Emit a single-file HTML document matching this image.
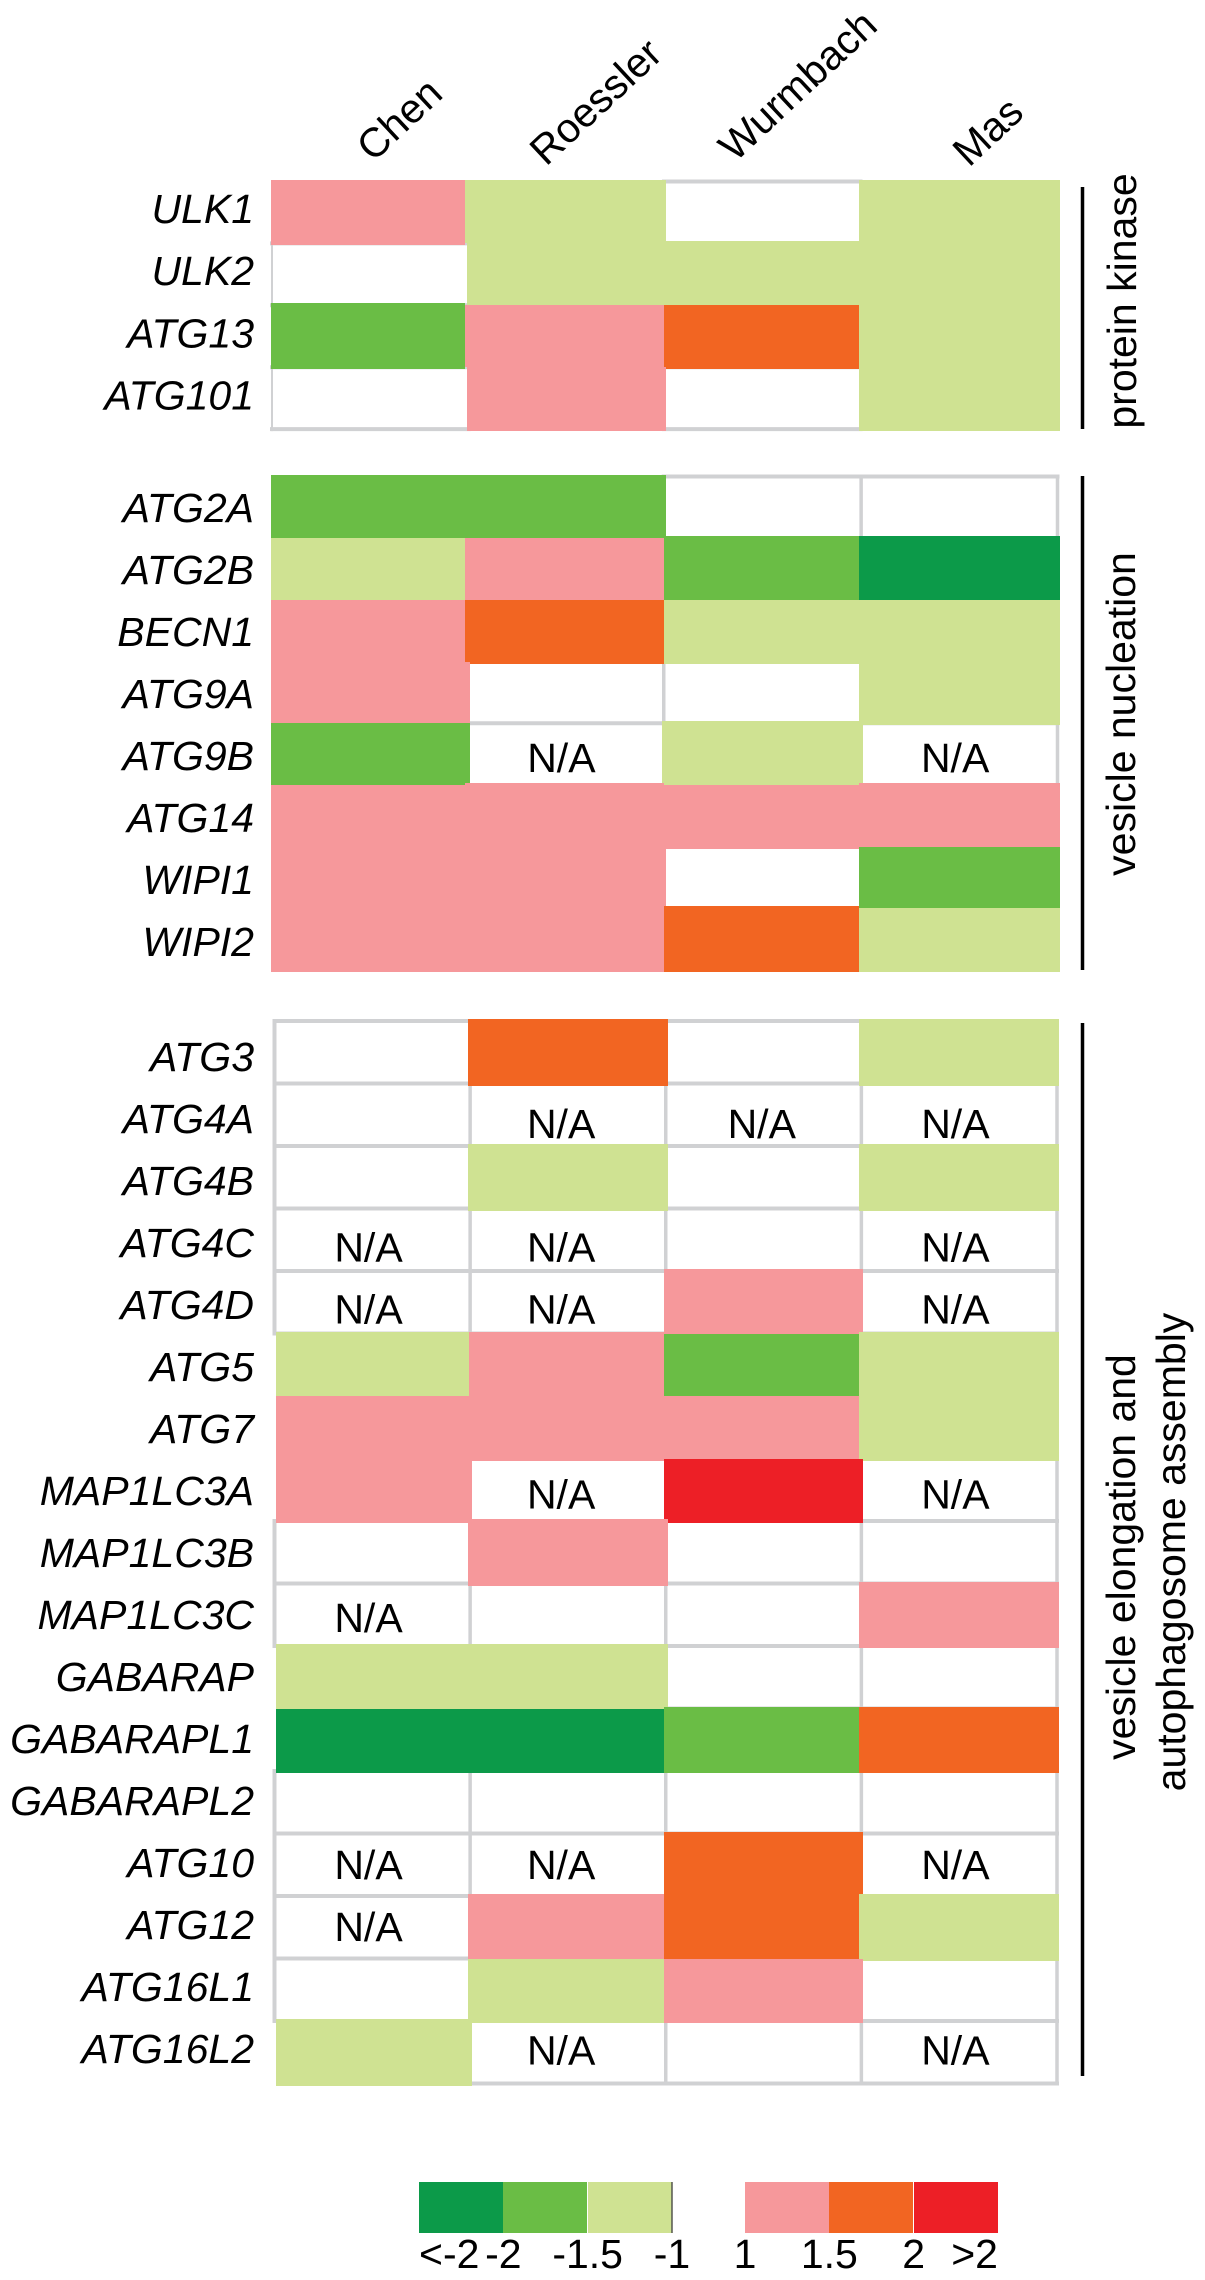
<!DOCTYPE html>
<html lang="en">
<head>
<meta charset="utf-8">
<title>Autophagy gene expression heatmap</title>
<style>
html,body{margin:0;padding:0;background:#fff}
svg{display:block}
text{font-family:"Liberation Sans",sans-serif;fill:#000}
</style>
</head>
<body>
<svg id="chart" xmlns="http://www.w3.org/2000/svg" width="1205" height="2280" viewBox="0 0 1205 2280">
  <rect x="0" y="0" width="1205" height="2280" fill="#fff"/>
  <g id="layer-grid"></g>
  <g id="layer-cells"></g>
  <g id="layer-text"></g>
  <g id="layer-legend"></g>
</svg>
<script>
// ---- data: 0 = no change (white), null = N/A, +/-1..3 = expression level class ----
const studies = ["Chen", "Roessler", "Wurmbach", "Mas"];

const kinaseGenes = ["ULK1", "ULK2", "ATG13", "ATG101"];
const kinaseValues = [
  [1, -1, 0, -1],
  [0, -1, -1, -1],
  [-2, 1, 2, -1],
  [0, 1, 0, -1]
];

const nucleationGenes = ["ATG2A", "ATG2B", "BECN1", "ATG9A", "ATG9B", "ATG14", "WIPI1", "WIPI2"];
const nucleationValues = [
  [-2, -2, 0, 0],
  [-1, 1, -2, -3],
  [1, 2, -1, -1],
  [1, 0, 0, -1],
  [-2, null, -1, null],
  [1, 1, 1, 1],
  [1, 1, 0, -2],
  [1, 1, 2, -1]
];

const elongationGenes = ["ATG3", "ATG4A", "ATG4B", "ATG4C", "ATG4D", "ATG5", "ATG7", "MAP1LC3A", "MAP1LC3B", "MAP1LC3C", "GABARAP", "GABARAPL1", "GABARAPL2", "ATG10", "ATG12", "ATG16L1", "ATG16L2"];
const elongationValues = [
  [0, 2, 0, -1],
  [0, null, null, null],
  [0, -1, 0, -1],
  [null, null, 0, null],
  [null, null, 1, null],
  [-1, 1, -2, -1],
  [1, 1, 1, -1],
  [1, null, 3, null],
  [0, 1, 0, 0],
  [null, 0, 0, 1],
  [-1, -1, 0, 0],
  [-3, -3, -2, 2],
  [0, 0, 0, 0],
  [null, null, 2, null],
  [null, 1, 2, -1],
  [0, -1, 1, 0],
  [-1, null, 0, null]
];

const legendGreenLevels = [-3, -2, -1];
const legendRedLevels = [1, 2, 3];
const legendTickLabels = ["<-2", "-2", "-1.5", "-1", "1", "1.5", "2", ">2"];

// ---- styling & scales ----
const levelColors = {"-3": "#0c9a49", "-2": "#6abd45", "-1": "#cfe292", "1": "#f6989b", "2": "#f26522", "3": "#ed1f26"};
const NS = "http://www.w3.org/2000/svg";
const FONT = 41;
const GRID = "#d0d1d3";

function node(tag, attrs, parent, txt) {
  const el = document.createElementNS(NS, tag);
  for (const k in attrs) el.setAttribute(k, attrs[k]);
  if (txt !== undefined) el.textContent = txt;
  parent.appendChild(el);
  return el;
}

const gridLayer = document.getElementById("layer-grid");
const cellLayer = document.getElementById("layer-cells");
const textLayer = document.getElementById("layer-text");
const legendLayer = document.getElementById("layer-legend");

function colEdge(panel, c) {
  const s = panel.fillLeft, e = panel.fillRight;
  return s + (e - s) * c / studies.length + (c > 0 && c < studies.length ? panel.fillNudge[c - 1] : 0);
}
function gridX(panel, c) {
  const s = panel.gridLeft, e = panel.gridRight;
  return s + (e - s) * c / studies.length + (c > 0 && c < studies.length ? panel.gridNudge[c - 1] : 0);
}
function rowY(panel, r) { return panel.top + panel.rowH * r; }
function labelY(panel, r) { return panel.labelBase + panel.labelStep * r; }
function naY(panel, r) { return panel.naBase + panel.naStep * r; }
function isFilled(values, r, c) {
  if (r < 0 || r >= values.length || c < 0 || c >= studies.length) return false;
  const v = values[r][c];
  return v !== null && v !== 0;
}

function drawPanel(panel, genes, values) {
  const n = genes.length;
  const cols = studies.length;
  // grid: only the segments that border at least one empty cell
  for (let r = 0; r <= n; r++) {
    for (let c = 0; c < cols; c++) {
      if (isFilled(values, r - 1, c) && isFilled(values, r, c)) continue;
      if (r === 0 && isFilled(values, 0, c)) continue;
      if (r === n && isFilled(values, n - 1, c)) continue;
      const h = node("line", {x1: gridX(panel, c) - 2, x2: gridX(panel, c + 1) + 2, y1: rowY(panel, r), y2: rowY(panel, r), stroke: GRID, "stroke-width": 4}, gridLayer);
      
      
    }
  }
  for (let r = 0; r < n; r++) {
    for (let c = 0; c <= cols; c++) {
      if (isFilled(values, r, c - 1) || isFilled(values, r, c)) continue;
      const outerLeft = c === 0;
      const v = node("line", {x1: gridX(panel, c), x2: gridX(panel, c), y1: rowY(panel, r) - 2, y2: rowY(panel, r + 1) + 2, stroke: GRID, "stroke-width": outerLeft ? panel.leftLine : 3.5}, gridLayer);
      
      
    }
  }
  // cells
  values.forEach(function (row, r) {
    row.forEach(function (v, c) {
      if (v === null) {
        const na = node("text", {x: gridX(panel, c) + panel.naShift[c], y: naY(panel, r), "text-anchor": "middle", "font-size": FONT}, textLayer, "N/A");
        
        
      } else if (v !== 0) {
        const x0 = Math.round(c === 0 ? panel.fillLeft : (isFilled(values, r, c - 1) ? colEdge(panel, c) : gridX(panel, c) - 2));
        const x1 = Math.round(c === cols - 1 ? panel.fillRight : (isFilled(values, r, c + 1) ? colEdge(panel, c + 1) : gridX(panel, c + 1) + 2));
        const y0 = Math.round(isFilled(values, r - 1, c) ? rowY(panel, r) : rowY(panel, r) - 2);
        const y1 = Math.round(isFilled(values, r + 1, c) ? rowY(panel, r + 1) : rowY(panel, r + 1) + 2);
        const cell = node("rect", {x: x0, y: y0, width: x1 - x0, height: y1 - y0, fill: levelColors[v]}, cellLayer);
        
        
      }
    });
  });
  // gene labels
  genes.forEach(function (g, r) {
    const lab = node("text", {x: 254, y: labelY(panel, r), "text-anchor": "end", "font-size": FONT, "font-style": "italic"}, textLayer, g);
    
    
  });
  // group bar
  const bar = node("line", {x1: 1082.5, x2: 1082.5, y1: panel.barTop, y2: panel.barBottom, stroke: "#000", "stroke-width": 3.5}, textLayer);
  
  
}

const panelKinase = {top: 181.5, rowH: 61.9, fillLeft: 271, fillRight: 1060, fillNudge: [-3, -2, -4], gridLeft: 272, gridRight: 1058, gridNudge: [0, -1, -1], leftLine: 2,
  labelBase: 223, labelStep: 62.2, naBase: 0, naStep: 0, naShift: [0, 0, 0, 0], barTop: 187, barBottom: 429};
const panelNucleation = {top: 476.5, rowH: 61.7, fillLeft: 271, fillRight: 1060, fillNudge: [-3, -2, -4], gridLeft: 272, gridRight: 1057.5, gridNudge: [0, -1, 0], leftLine: 2,
  labelBase: 522, labelStep: 62, naBase: 524, naStep: 62, naShift: [93, 93, 94, 94], barTop: 476, barBottom: 970};
const panelElongation = {top: 1021, rowH: 62.5, fillLeft: 276, fillRight: 1059, fillNudge: [-2.75, -3.5, -4.25], gridLeft: 274.5, gridRight: 1057, gridNudge: [0, 0, 0], leftLine: 4,
  labelBase: 1071, labelStep: 62, naBase: 1076.3, naStep: 61.75, naShift: [94, 91, 96, 94], barTop: 1023, barBottom: 2076};

drawPanel(panelKinase, kinaseGenes, kinaseValues);
drawPanel(panelNucleation, nucleationGenes, nucleationValues);
drawPanel(panelElongation, elongationGenes, elongationValues);

// study headers
const headerAnchors = [[373, 163], [546, 167], [735, 163], [969, 168]];
studies.forEach(function (s, i) {
  const h = node("text", {x: headerAnchors[i][0], y: headerAnchors[i][1], "font-size": FONT,
    transform: "rotate(-43 " + headerAnchors[i][0] + " " + headerAnchors[i][1] + ")"}, textLayer, s);
  
  
});

// group titles
function groupTitle(txt, x, y) {
  const t = node("text", {x: x, y: y, "font-size": FONT, "text-anchor": "middle", transform: "rotate(-90 " + x + " " + y + ")"}, textLayer, txt);
  
  
}
groupTitle("protein kinase", 1136, 301);
groupTitle("vesicle nucleation", 1135, 714);
groupTitle("vesicle elongation and", 1135, 1557);
groupTitle("autophagosome assembly", 1185, 1552);

// legend
const LEG_Y = 2182, LEG_H = 51, SW = 84.33, GREEN_X = 419, RED_X = 745;
function legendSwatches(levels, startX) {
  levels.forEach(function (lv, i) {
    const sw = node("rect", {x: Math.round(startX + i * SW), y: LEG_Y, width: Math.round(SW), height: LEG_H, fill: levelColors[lv]}, legendLayer);
    
    
  });
}
legendSwatches(legendGreenLevels, GREEN_X);
legendSwatches(legendRedLevels, RED_X);
const legendEnd = node("line", {x1: GREEN_X + 3 * SW, x2: GREEN_X + 3 * SW, y1: LEG_Y, y2: LEG_Y + LEG_H, stroke: "#55574f", "stroke-width": 1.5}, legendLayer);



legendTickLabels.forEach(function (lab, i) {
  const half = legendGreenLevels.length + 1;
  const x = i < half ? GREEN_X + i * SW : RED_X + (i - half) * SW;
  const anchor = i === 0 ? "start" : (i === legendTickLabels.length - 1 ? "end" : "middle");
  const t = node("text", {x: x, y: 2268, "font-size": FONT, "text-anchor": anchor}, legendLayer, lab);
  
  
});
</script>
</body>
</html>
